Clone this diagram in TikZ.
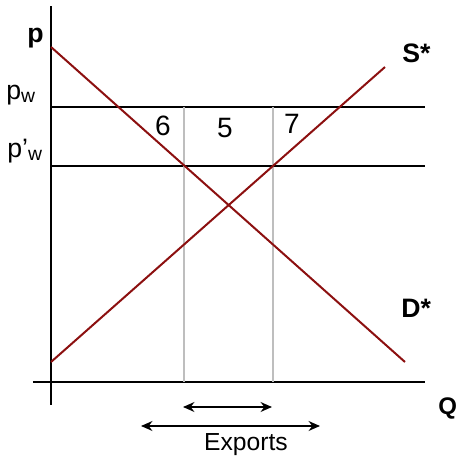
\documentclass[tikz,border=0pt]{standalone}
\usepackage{fontspec}
\setmainfont{Liberation Sans}
\usepackage{tikz}
\usetikzlibrary{arrows.meta, positioning, calc}
\definecolor{cCurve}{RGB}{140,16,16}
\definecolor{cGuide}{RGB}{190,190,190}
\tikzset{
	axis/.style     ={line width=0.9pt, black},
	curve/.style    ={line width=1.5pt, cCurve},
	price/.style    ={line width=0.8pt, black},
	guide/.style    ={line width=0.9pt, cGuide},
	span/.style     ={{Stealth[length=3mm, width=2.6mm]}-{Stealth[length=3mm, width=2.6mm]}, line width=1.3pt},
	lbl/.style      ={inner sep=0pt, anchor=base west, font=\fontsize{20}{22}\selectfont},
	num/.style      ={inner sep=0pt, anchor=base, font=\fontsize{21}{23}\selectfont},
	bigb/.style     ={inner sep=0pt, anchor=base west, font=\fontsize{20}{22}\selectfont\bfseries},
}
\newcommand{\subw}{\raisebox{-0.22ex}{\fontsize{14.5}{16}\selectfont w}}

\begin{document}
\begin{tikzpicture}[x=0.75pt, y=-0.75pt]
	\useasboundingbox (0,0) rectangle (462,457);
	% axes
	\coordinate (o) at (51,382);
	\coordinate (ytop) at (51,6);
	\coordinate (ybot) at (51,405);
	\coordinate (xl) at (33,382);
	\coordinate (xr) at (425,382);
	\draw[axis] (ytop) -- (ybot);
	\draw[axis] (xl) -- (xr);
	% world prices
	\coordinate (pw0) at (51,107);
	\coordinate (pw1) at (425,107);
	\coordinate (qw0) at (51,166);
	\coordinate (qw1) at (425,166);
	\draw[price] (pw0) -- (pw1);
	\draw[price] (qw0) -- (qw1);
	% guides at p'w
	\coordinate (ga) at (184,107);
	\coordinate (gb) at (273,107);
	\draw[guide] (ga) -- (ga |- o);
	\draw[guide] (gb) -- (gb |- o);
	% supply and demand
	\coordinate (d0) at (51,47);
	\coordinate (d1) at (405,362);
	\coordinate (s0) at (51,362);
	\coordinate (s1) at (385,67);
	\draw[curve] (d0) -- (d1);
	\draw[curve] (s0) -- (s1);
	% labels
	\node[bigb] (p) at (27,42) {p};
	\node[lbl] (pw) at (6,99) {p\subw};
	\node[lbl] (qw) at (7,157) {p\textquoteright\subw};
	\node[bigb] (S) at (402,62) {S*};
	\node[bigb] (D) at (401,317) {D*};
	\node[bigb, font=\fontsize{18}{20}\selectfont\bfseries] (Q) at (438,414) {Q};
	\node[num] (a6) at (163,135) {6};
	\node[num] (a5) at (225,137) {5};
	\node[num] (a7) at (292,133) {7};
	% exports
	\coordinate (e0) at (183,407);
	\coordinate (e1) at (272,407);
	\coordinate (f0) at (141,426);
	\coordinate (f1) at (320,426);
	\draw[span] (e0) -- (e1);
	\draw[span] (f0) -- (f1);
	\node[num, font=\fontsize{18.5}{20}\selectfont] (ex) at (246,450) {Exports};
\end{tikzpicture}
\end{document}
